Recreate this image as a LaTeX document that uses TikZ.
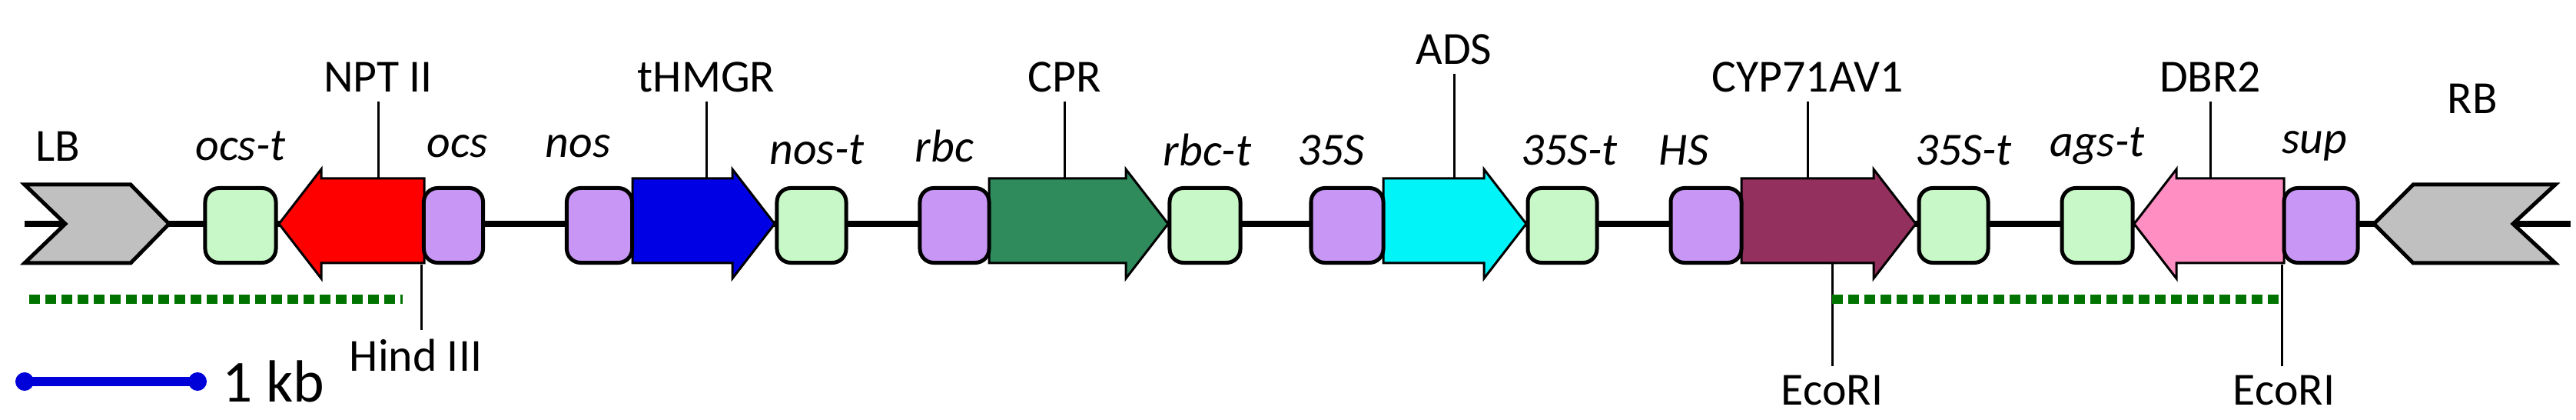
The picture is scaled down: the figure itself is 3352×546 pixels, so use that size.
\documentclass[tikz,border=0pt]{standalone}
\usepackage{fontspec}
\setmainfont{Carlito}
\usetikzlibrary{positioning}
\definecolor{termgreen}{HTML}{C8F7C8}
\definecolor{promlilac}{HTML}{C896F5}
\definecolor{cprgreen}{HTML}{2F8A5C}
\definecolor{adscyan}{HTML}{00F4F8}
\definecolor{cypred}{HTML}{93305E}
\definecolor{dbrpink}{HTML}{FF8EC2}
\definecolor{bordergray}{HTML}{C0C0C0}
\tikzset{
  box/.style={draw, line width=0.05cm, rounded corners=0.18cm, minimum width=#1, minimum height=0.97cm, inner sep=0},
  term/.style={box=0.9cm, fill=termgreen},
  prom/.style={box=0.9cm, fill=promlilac},
  gene/.style={draw, line width=0.03cm},
  lbl/.style={font=\fontsize{17}{17}\selectfont},
  ilbl/.style={font=\fontsize{17}{17}\selectfont\itshape},
  site/.style={line width=0.03cm},
  frag/.style={line width=0.12cm, draw=green!45!black, dash pattern=on 0.14cm off 0.07cm}
}
% gene arrows: name, back end, tip, colour
\newcommand\rgene[4]{%
  \draw[gene, fill=#4] (#2,232) -- ({#3-55},232) -- ({#3-55},220) -- (#3,291)
    -- ({#3-55},362) -- ({#3-55},342) -- (#2,342) -- cycle;
  \coordinate (#1) at ({(#2+#3)/2},232);}
\newcommand\lgene[4]{%
  \draw[gene, fill=#4] (#2,232) -- ({#3+55},232) -- ({#3+55},220) -- (#3,291)
    -- ({#3+55},362) -- ({#3+55},342) -- (#2,342) -- cycle;
  \coordinate (#1) at ({(#2+#3)/2},232);}
\begin{document}
\begin{tikzpicture}[x=0.01cm,y=-0.01cm]
\useasboundingbox (0,0) rectangle (3352,546);
% backbone
\draw[line width=0.07cm] (32,291) -- (3345,291);
% borders
\draw[line width=0.05cm, fill=bordergray] (32,240) -- (170,240) -- (220,291) -- (170,342) -- (32,342) -- (85,291) -- cycle;
\draw[line width=0.05cm, fill=bordergray] (3325,240) -- (3140,240) -- (3089,291) -- (3140,342) -- (3325,342) -- (3270,291) -- cycle;
\node[lbl] (lb) at (75,190) {LB};
\node[lbl] (rb) at (3217,128) {RB};
% genes
\lgene{npt}{552}{363}{red}
\rgene{hmgr}{823}{1008}{blue!90!black}
\rgene{cpr}{1287}{1520}{cprgreen}
\rgene{ads}{1800}{1986}{adscyan}
\rgene{cyp}{2266}{2493}{cypred}
\lgene{dbr}{2972}{2777}{dbrpink}
% promoters and terminators
\node[term, minimum width=0.92cm] (ocst) at (313,293) {};
\node[prom, minimum width=0.77cm] (ocs) at (590,293) {};
\node[prom, minimum width=0.85cm] (nos) at (780,293) {};
\node[term] (nost) at (1056,293) {};
\node[prom] (rbc) at (1242,293) {};
\node[term, minimum width=0.92cm] (rbct) at (1568,293) {};
\node[prom, minimum width=0.94cm] (p35s) at (1753,293) {};
\node[term] (t35s) at (2033,293) {};
\node[prom, minimum width=0.92cm] (hs) at (2220,293) {};
\node[term] (t35sb) at (2542,293) {};
\node[term, minimum width=0.92cm] (agst) at (2729,293) {};
\node[prom, minimum width=0.96cm] (sup) at (3020,293) {};
% element labels
\node[ilbl] at (313,190) {ocs-t};
\node[ilbl] at (595,190) {ocs};
\node[ilbl] at (752,190) {nos};
\node[ilbl] at (1063,195) {nos-t};
\node[ilbl] at (1229,190) {rbc};
\node[ilbl] at (1571,195) {rbc-t};
\node[ilbl] at (1732,195) {35S};
\node[ilbl] at (2042,195) {35S-t};
\node[ilbl] at (2191,195) {HS};
\node[ilbl] at (2555,195) {35S-t};
\node[ilbl] at (2729,190) {ags-t};
\node[ilbl] at (3012,190) {sup};
% gene names
\node[lbl] (nptlbl) at (492,100) {NPT II};
\node[lbl] (hmgrlbl) at (919,100) {tHMGR};
\node[lbl] (cprlbl) at (1385,100) {CPR};
\node[lbl] (adslbl) at (1892,64) {ADS};
\node[lbl] (cyplbl) at (2352,100) {CYP71AV1};
\node[lbl] (dbrlbl) at (2876,100) {DBR2};
\foreach \g/\a in {nptlbl/npt,hmgrlbl/hmgr,cprlbl/cpr,adslbl/ads,cyplbl/cyp,dbrlbl/dbr}
  \draw[site] (\g.south) -- (\g.south |- \a);
% restriction sites
\node[lbl] (hind) at (541,462) {Hind III};
\node[lbl] (ecoa) at (2384,508) {EcoRI};
\node[lbl] (ecob) at (2972,508) {EcoRI};
\draw[site] (ocs.south west) -- (ocs.south west |- hind.north);
\coordinate (ecoatop) at (2384,342);
\draw[site] (ecoatop) -- (ecoa.north);
\draw[site] (sup.south west) -- (sup.south west |- ecob.north);
% probe fragments
\draw[frag] (38,389) -- (524,389);
\draw[frag] (2384,389) -- (2972,389);
% scale bar
\coordinate (sba) at (32,496);
\coordinate (sbb) at (257,496);
\draw[blue!85!black, line width=0.11cm] (sba) -- (sbb);
\fill[blue!85!black] (sba) circle (0.12cm) (sbb) circle (0.12cm);
\node[font=\fontsize{22}{22}\selectfont, right=0.2cm of sbb] (kb) {1 kb};
\end{tikzpicture}
\end{document}
